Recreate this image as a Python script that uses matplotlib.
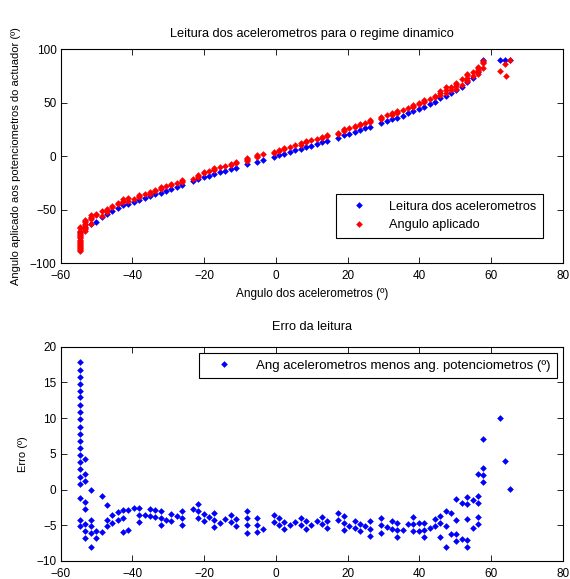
import matplotlib
matplotlib.use("Agg")
import matplotlib.pyplot as plt
import numpy as np

plt.rcParams['font.family'] = ['Liberation Sans', 'DejaVu Sans']
plt.rcParams['font.size'] = 8

# accelerometer angle for each measurement column
ang_acel = [-54.7, -53.3, -51.6, -50.1, -48.6, -47.1, -45.7, -44.1, -42.7, -41.2,
            -39.7, -38.3, -36.5, -35.2, -33.6, -32.0, -30.6, -29.2, -27.6, -26.2,
            -23.1, -21.7, -20.1, -18.7, -17.3, -15.6, -14.2, -12.5, -11.1, -8.1,
            -5.3, -3.6, -0.6, 0.8, 2.2, 3.9, 5.3, 7.0, 8.4, 9.7,
            11.4, 12.8, 14.2, 17.3, 18.9, 20.3, 21.9, 23.5, 24.9, 26.3,
            29.3, 31.0, 32.4, 33.8, 35.5, 36.9, 38.2, 39.9, 41.3, 43.0,
            44.4, 45.8, 47.4, 48.8, 50.2, 51.9, 53.3, 54.9, 56.3, 57.7,
            62.5, 63.9, 65.3]

# accelerometer reading (blue) for each column
leitura = [-71, -66, -63, -61, -57, -54, -51, -48, -46, -44.5,
           -43, -41, -39, -37.5, -35.5, -34, -32, -30.5, -29, -27,
           -23.5, -21.5, -19.5, -18, -16.5, -15, -13.5, -12, -10.5, -7.5,
           -5, -3.5, -0.5, 1, 2.5, 4, 5.5, 7, 8.5, 10,
           11.5, 13, 14.5, 17.5, 19.5, 21, 22.5, 24.5, 26, 27.5,
           31, 33, 34.5, 36, 38, 40, 42, 44, 46, 48.5,
           51, 54, 56.5, 59, 61.5, 65, 69, 73.5, 79, 90,
           90, 90, 90]

# error values (accelerometer minus potentiometer) for each column
erro = [
    [17.9, 16.8, 15.8, 14.8, 13.8, 12.9, 11.9, 10.9, 9.9, 8.8, 7.8, 6.8, 5.8,
     4.8, 3.9, 2.9, 1.8, 0.8, -1.2, -4.2, -5.1],
    [4.3, 2.2, 1.2, -1.8, -2.7, -4.8, -5.8, -6.8],
    [-0.1, -4.2, -5.1, -6.1, -8.1],
    [-5.8, -6.8],
    [-0.9, -6.0],
    [-2.2, -4.2, -5.1],
    [-3.6, -4.7],
    [-3.2, -4.3],
    [-2.9, -4.0, -6.0],
    [-2.8, -5.7],
    [-2.6],
    [-2.6, -3.6, -4.6],
    [-3.6],
    [-2.7, -3.7],
    [-2.9, -3.9],
    [-3.0, -4.0, -5.0],
    [-4.2],
    [-3.4, -4.4],
    [-3.7],
    [-3.0, -4.0, -5.0],
    [-2.7],
    [-2.0, -3.0, -4.0],
    [-3.4, -4.4],
    [-3.9],
    [-3.3, -4.3, -5.3],
    [-4.7],
    [-4.1],
    [-3.6, -4.6],
    [-4.1, -5.1],
    [-3.0, -4.0, -5.0, -6.1],
    [-4.0, -5.0, -6.0],
    [-5.5],
    [-3.6, -4.6],
    [-4.0, -5.0],
    [-4.6, -5.5],
    [-5.0],
    [-4.6],
    [-4.0, -5.0],
    [-4.4, -5.5],
    [-5.0],
    [-4.4],
    [-3.9, -4.8],
    [-4.4, -5.4],
    [-3.3, -4.3],
    [-3.7, -4.7, -5.7],
    [-5.1],
    [-4.4, -5.4],
    [-4.8, -5.8],
    [-5.1],
    [-4.4, -5.5, -6.5],
    [-4.0, -5.0, -6.1],
    [-5.3],
    [-4.4, -5.5],
    [-4.7, -5.7, -6.7],
    [-5.7],
    [-4.8],
    [-3.9, -4.8, -5.8],
    [-4.7, -5.8],
    [-4.7, -5.7, -6.7],
    [-5.4],
    [-4.1, -5.1],
    [-3.7, -4.7, -6.7],
    [-3.0, -5.1, -8.1],
    [-3.3, -6.2],
    [-1.3, -4.3, -6.2, -7.2],
    [-1.9, -6.9],
    [-1.1, -2.0, -4.1, -7.1, -8.1],
    [-1.5, -5.4],
    [2.2, -0.9, -1.9, -3.9, -4.8],
    [7.1, 3.0, 2.0, 1.0],
    [10.0],
    [4.0],
    [0.1],
]

# one stray applied-angle point near the top right
extra_x = [64.1]
extra_aplicado = [75.0]

# flatten columns into points
x_err = []
y_err = []
y_apl = []
for xa, b, col in zip(ang_acel, leitura, erro):
    for e in col:
        x_err.append(xa)
        y_err.append(e)
        y_apl.append(b - e)
x_apl = x_err + extra_x
y_apl = y_apl + extra_aplicado

fig = plt.figure(figsize=(5.7, 5.79), dpi=100)
ax1 = fig.add_axes([0.1065, 0.5453, 0.8812, 0.3696])
ax2 = fig.add_axes([0.1065, 0.0311, 0.8812, 0.3701])

mk = dict(linestyle='none', marker='D', markersize=3.4, markeredgewidth=0)

ax1.plot(ang_acel, leitura, color='#0000ff', label='Leitura dos acelerometros', **mk)
ax1.plot(x_apl, y_apl, color='#ff0000', label='Angulo aplicado', **mk)
ax1.set_xlim(-60, 80)
ax1.set_ylim(-100, 100)
ax1.set_xticks(np.arange(-60, 81, 20))
ax1.set_yticks(np.arange(-100, 101, 50))
ax1.set_title('Leitura dos acelerometros para o regime dinamico', fontsize=9.2, pad=9)
ax1.set_xlabel('Angulo dos acelerometros (º)', fontsize=8.5, labelpad=4)
ax1.set_ylabel('Angulo aplicado aos potenciometros do actuador (º)', labelpad=6)
leg1 = ax1.legend(loc='lower right', bbox_to_anchor=(0.960, 0.117), fancybox=False,
                  edgecolor='black', framealpha=1, numpoints=1, handletextpad=1.0,
                  borderpad=0.55, handlelength=2.6, fontsize=9.2, borderaxespad=0)
leg1.get_frame().set_linewidth(0.8)

ax2.plot(x_err, y_err, color='#0000ff',
         label='Ang acelerometros menos ang. potenciometros (º)', **mk)
ax2.set_xlim(-60, 80)
ax2.set_ylim(-10, 20)
ax2.set_xticks(np.arange(-60, 81, 20))
ax2.set_yticks(np.arange(-10, 21, 5))
ax2.set_title('Erro da leitura', fontsize=9.2, pad=12)
ax2.set_ylabel('Erro (º)', labelpad=6)
leg2 = ax2.legend(loc='upper right', bbox_to_anchor=(0.988, 0.971), fancybox=False,
                  edgecolor='black', framealpha=1, numpoints=1, handletextpad=1.0,
                  borderpad=0.5, handlelength=2.8, fontsize=9.5, borderaxespad=0)
leg2.get_frame().set_linewidth(0.8)

for ax in (ax1, ax2):
    ax.tick_params(direction='in', top=True, right=True, length=4, width=0.6,
                   labelsize=8.5)
    ax.tick_params(axis='x', pad=5)
    ax.tick_params(axis='y', pad=3)
    for s in ax.spines.values():
        s.set_linewidth(0.8)

fig.savefig('out.png', dpi=100)
